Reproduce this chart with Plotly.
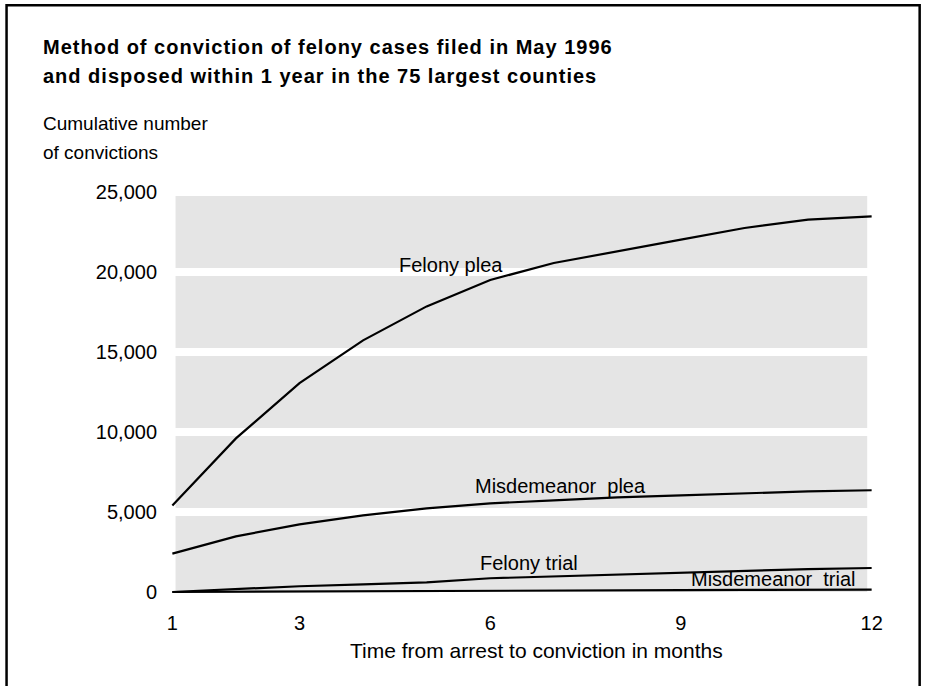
import plotly.graph_objects as go

months = [1, 2, 3, 4, 5, 6, 7, 8, 9, 10, 11, 12]
felony_plea = [5400, 9600, 13050, 15730, 17850, 19500, 20560, 21310, 22020, 22750, 23270, 23480]
misd_plea = [2400, 3480, 4230, 4790, 5230, 5540, 5730, 5920, 6040, 6170, 6290, 6360]
felony_trial = [0, 170, 360, 480, 600, 860, 980, 1060, 1180, 1300, 1430, 1500]
misd_trial = [0, 20, 40, 60, 70, 90, 100, 110, 120, 130, 140, 150]

x_ticks = [1, 3, 6, 9, 12]
y_ticks = [0, 5000, 10000, 15000, 20000, 25000]
y_tick_text = ["0", "5,000", "10,000", "15,000", "20,000", "25,000"]

labels = [
    ("Felony plea", 5.38, 20420),
    ("Misdemeanor  plea", 7.10, 6600),
    ("Felony trial", 6.61, 1790),
    ("Misdemeanor  trial", 10.46, 790),
]

FONT = "Liberation Sans, Arial, sans-serif"
GRAY = "#e5e5e5"

# plot area geometry (pixels)
L, T, W, H = 165.6, 187.7, 712.7, 408.0
FIG_W, FIG_H = 925, 686


def px(xp):
    return (xp - L) / W


def py(yp):
    return (T + H - yp) / H


fig = go.Figure()
series = [felony_plea, misd_plea, felony_trial, misd_trial]
for s in series:
    fig.add_trace(go.Scatter(x=months, y=s, mode="lines",
                             line=dict(color="black", width=2.2),
                             hoverinfo="skip", showlegend=False))

shapes = []
for k in range(5):
    y0 = k * 5000 + (250 if k > 0 else 0)
    y1 = (k + 1) * 5000 - 250
    shapes.append(dict(type="rect", xref="x", yref="y", x0=1.05, x1=11.93,
                       y0=y0, y1=y1, fillcolor=GRAY, line=dict(width=0),
                       layer="below"))
shapes.append(dict(type="rect", xref="paper", yref="paper",
                   x0=px(6), x1=px(920), y0=py(720), y1=py(5),
                   line=dict(color="black", width=2.5), fillcolor="rgba(0,0,0,0)"))

annotations = []
for text, lx, ly in labels:
    annotations.append(dict(x=lx, y=ly, xref="x", yref="y", text=text,
                            showarrow=False, font=dict(size=20, color="black", family=FONT)))


def ann(text, xp, yp, size, anchor="left"):
    return dict(x=px(xp), y=py(yp), xref="paper", yref="paper", xanchor=anchor,
                yanchor="middle", text=text, showarrow=False,
                font=dict(size=size, color="black", family=FONT))


SP = '<span style="letter-spacing:1px">'
annotations += [
    ann("<b>" + SP + "Method of conviction of felony cases filed in May 1996</span></b>", 40, 47, 20),
    ann("<b>" + SP + "and disposed within 1 year in the 75 largest counties</span></b>", 40, 76, 20),
    ann("Cumulative number", 40, 123, 19),
    ann("of convictions", 40, 152, 19),
    ann("Time from arrest to conviction in months", 536, 650, 21, "center"),
]

fig.update_layout(
    width=FIG_W, height=FIG_H,
    margin=dict(l=L, r=FIG_W - L - W, t=T, b=FIG_H - T - H, pad=0),
    paper_bgcolor="white", plot_bgcolor="white",
    shapes=shapes, annotations=annotations,
    font=dict(family=FONT, size=20, color="black"),
    xaxis=dict(range=[0.9, 12.1], tickvals=x_ticks, ticktext=[str(v) for v in x_ticks],
               showgrid=False, zeroline=False, showline=False,
               ticks="outside", ticklen=9, tickcolor="rgba(0,0,0,0)",
               tickfont=dict(size=20, color="black", family=FONT), fixedrange=True),
    yaxis=dict(range=[-250, 25250], tickvals=y_ticks, ticktext=y_tick_text,
               showgrid=False, zeroline=False, showline=False,
               ticks="outside", ticklen=4, tickcolor="rgba(0,0,0,0)",
               tickfont=dict(size=20, color="black", family=FONT), fixedrange=True),
)

fig.write_html("out.html", config={"displayModeBar": False},
               post_script="document.body.style.margin='0';")
